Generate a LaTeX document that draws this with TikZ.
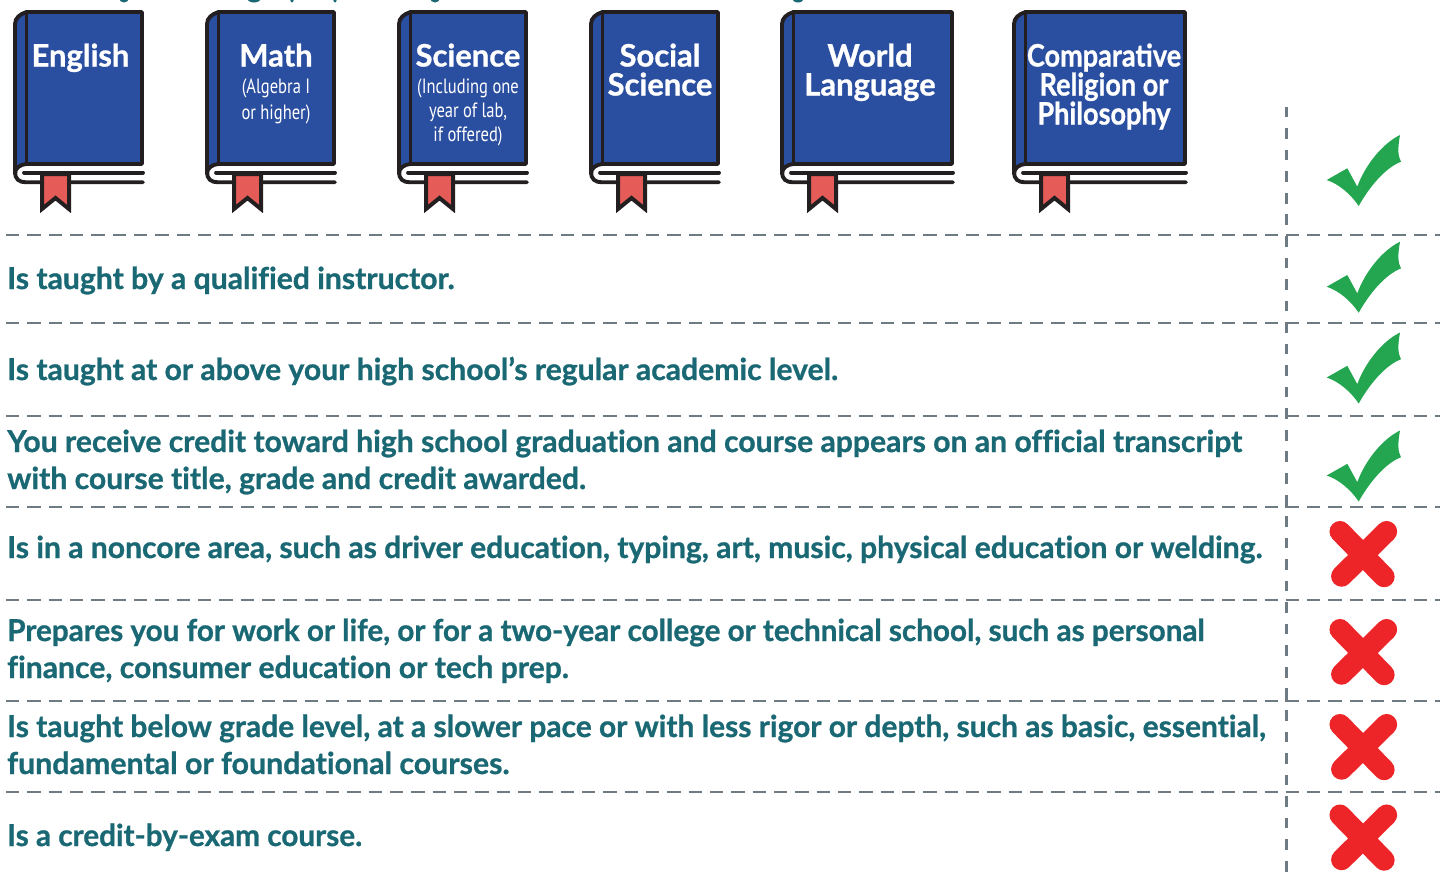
\documentclass[tikz,border=0pt]{standalone}
\usepackage{fontspec}
\setmainfont[BoldFeatures={FakeBold=0.9},Ligatures=TeX]{Lato}
\newfontfamily\capfont[FakeStretch=0.8]{PT Sans}
\definecolor{teal1}{HTML}{196873}
\definecolor{dashc}{HTML}{6E7B83}
\definecolor{bookb}{HTML}{2A4EA0}
\definecolor{ink}{HTML}{231F20}
\definecolor{rib}{HTML}{E55B58}
\definecolor{grn}{HTML}{23A64F}
\definecolor{redx}{HTML}{ED2529}
\tikzset{
 rowtext/.style={anchor=base west,align=left,text=teal1,font=\fontsize{22.6}{27.75}\selectfont\bfseries\addfontfeatures{Ligatures=NoCommon},inner sep=0pt},
 hrule/.style={draw=dashc,line width=2.2pt,dash pattern=on 10pt off 6pt},
 vrule/.style={draw=dashc,line width=2.2pt,dash pattern=on 8pt off 8.16pt},
 booktitle/.style={text=white,font=\fontsize{23.2}{21.75}\selectfont\bfseries,align=center,inner sep=0pt,anchor=base},
 booksub/.style={text=white,font=\fontsize{15.5}{18}\capfont\selectfont,align=center,inner sep=0pt,anchor=base},
 inkline/.style={draw=ink,line width=2.9pt,line cap=round,line join=round},
}
% #1 left edge, #2 outer width
\newcommand\bookicon[2]{%
 \begin{scope}[shift={(#1,0)}]
  \fill[bookb] (2,24) .. controls (2,18) and (7,14) .. (13.5,12) -- (#2-2,12) -- (#2-2,164) -- (13.5,164) .. controls (7,165) and (2,168) .. (2,174) -- cycle;
  \draw[inkline] (#2-2,164) -- (13.5,164) .. controls (7,164.5) and (2,168) .. (2,174) -- (2,24) .. controls (2,18) and (7,14) .. (13.5,12) -- (#2-2,12) -- cycle;
  \draw[inkline] (13.5,12) -- (13.5,164);
  \draw[inkline] (2,172) .. controls (2,179) and (6,182.3) .. (13,182.3) -- (#2-1,182.3);
  \draw[inkline] (#2-1,172.6) -- (11,172.6);
  \draw[ink,line width=3pt,fill=rib,line join=miter] (29,174) -- (29,209) -- (42.5,198) -- (56,209) -- (56,174) -- cycle;
  \fill[white] (26,212.5) rectangle (59,215);
 \end{scope}}
\newcommand\checkicon[1]{%
 \fill[grn,shift={(1326.7,#1)}] (0,0) -- (20.6,-11.7)
  -- (30.6,6.7) .. controls (38,-14) and (55,-36) .. (73.3,-45)
  .. controls (71,-32) and (71,-24) .. (74.3,-18.3)
  .. controls (58,-12) and (42,8) .. (32,26)
  .. controls (24,14) and (12,4) .. (0,0) -- cycle;}
\newcommand\crossicon[1]{%
 \draw[redx,line width=15.8pt,line cap=round,shift={(1363.3,#1)}] (-23.3,-23.5) -- (20.8,21.7) (23.3,-23.5) -- (-21.7,21.2);}
\begin{document}
\begin{tikzpicture}[x=0.75pt,y=-0.75pt]
\useasboundingbox (0,0) rectangle (1440,872);
% clipped fragments of the line above
\begin{scope}
 \clip (0,0) rectangle (1440,872);
 \foreach \xx/\rr in {124/5,254/7,292/2,335/2,435/5,798/6}
  \fill[teal1] (\xx,-2) ellipse ({\rr} and 4.5);
\end{scope}
% books
\bookicon{13}{131}
\bookicon{205}{131}
\bookicon{397}{131}
\bookicon{589}{131}
\bookicon{780}{174}
\bookicon{1012}{175}
% book titles
\node[booktitle] (tEnglish) at (80.5,66.5) {English};
\node[booktitle] (tMath) at (276,66.5) {Math};
\node[booksub] (sMathA) at (276,93) {(Algebra I};
\node[booksub] (sMathB) at (276,119) {or higher)};
\node[booktitle] (tScience) at (468,66.5) {Science};
\node[booksub] (sSciA) at (468,93) {(Including one};
\node[booksub] (sSciB) at (468,117) {year of lab,};
\node[booksub] (sSciC) at (468,141) {if offered)};
\node[booktitle] (tSocA) at (660,66.5) {Social};
\node[booktitle] (tSocB) at (660,95.5) {Science};
\node[booktitle] (tWorldA) at (870,66.5) {World};
\node[booktitle] (tWorldB) at (870,95.5) {Language};
\node[booktitle] (tCompA) at (1104,66.5) {\scalebox{.875}[1]{Comparative}};
\node[booktitle] (tCompB) at (1104,95.5) {\scalebox{.875}[1]{Religion or}};
\node[booktitle] (tCompC) at (1104,124.5) {\scalebox{.875}[1]{Philosophy}};
% horizontal rules
\foreach \yy in {235,323,416,507,600,701,792} {
 \draw[hrule] (6,\yy) -- (1279,\yy);
 \draw[hrule] (1307,\yy) -- (1440,\yy);
 \draw[draw=dashc,line width=2.2pt] (1285.6,\yy) -- (1299,\yy);
}
% vertical rule
\draw[vrule] (1286.5,106.7) -- (1286.5,872);
\draw[draw=dashc,line width=2.2pt] (1286.5,495) -- (1286.5,508);
\draw[draw=dashc,line width=2.2pt] (1286.5,690) -- (1286.5,702);
% row texts
\node[rowtext] (r1) at (7,289) {Is taught by a qualified instructor.};
\node[rowtext] (r2) at (7,380) {\scalebox{.999}[1]{Is taught at or above your high school’s regular academic level.}};
\node[rowtext] (r3) at (7,452) {You receive credit toward high school graduation and course appears on an official transcript};
\node[rowtext] (r3b) at (7,489) {with course title, grade and credit awarded.};
\node[rowtext] (r4) at (7,558) {\scalebox{.998}[1]{Is in a noncore area, such as driver education, typing, art, music, physical education or welding.}};
\node[rowtext] (r5) at (7,641) {\scalebox{.984}[1]{Prepares you for work or life, or for a two-year college or technical school, such as personal}};
\node[rowtext] (r5b) at (7,678) {finance, consumer education or tech prep.};
\node[rowtext] (r6) at (7,737) {\scalebox{.994}[1]{Is taught below grade level, at a slower pace or with less rigor or depth, such as basic, essential,}};
\node[rowtext] (r6b) at (7,774) {\scalebox{1.006}[1]{fundamental or foundational courses.}};
\node[rowtext] (r7) at (7,846) {\scalebox{.986}[1]{Is a credit-by-exam course.}};
% marks
\checkicon{180}
\checkicon{286.7}
\checkicon{377.5}
\checkicon{475.5}
\crossicon{555}
\crossicon{653}
\crossicon{748}
\crossicon{838.5}
\end{tikzpicture}
\end{document}
